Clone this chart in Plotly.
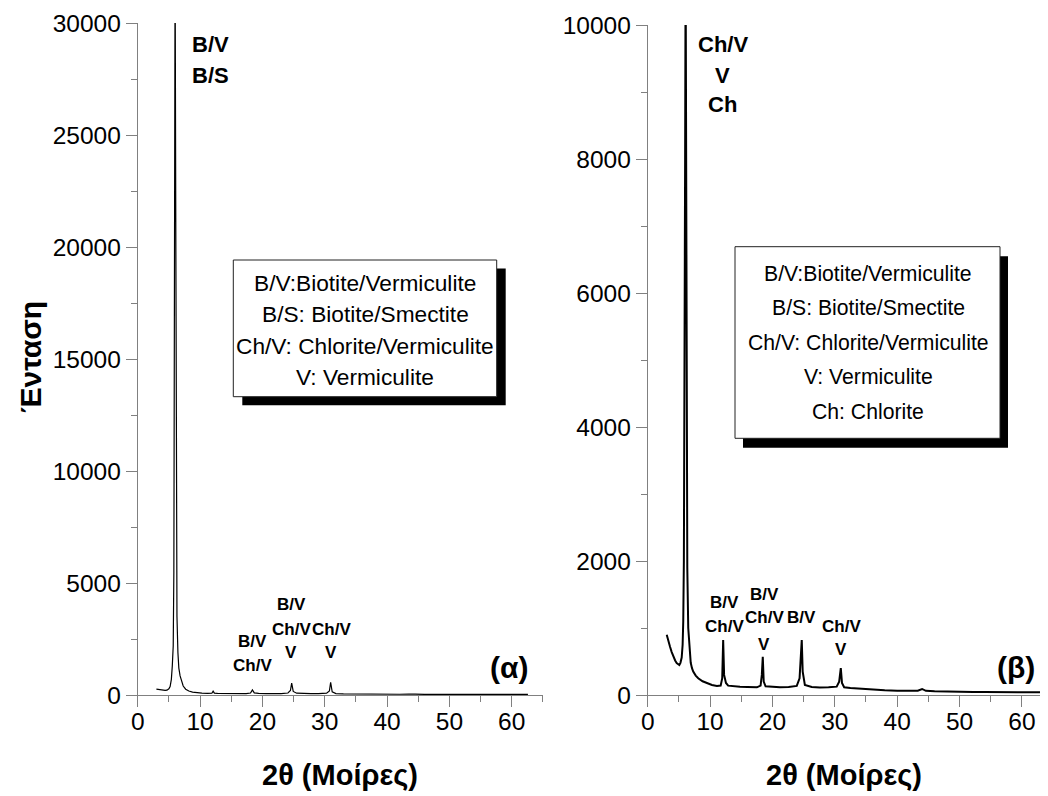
import plotly.graph_objects as go

# ---------------- data ----------------
alpha_2theta = [3.0, 3.3, 3.6, 4.0, 4.4, 4.7, 5.0, 5.2, 5.4, 5.55, 5.7, 5.8, 5.9, 6.0, 6.1,
                6.2, 6.3, 6.45, 6.6, 6.8, 7.0, 7.3, 7.7, 8.2, 8.8, 9.5, 10.3, 11.2, 11.9,
                12.1, 12.3, 12.8, 13.8, 15.0, 16.2, 17.4, 18.1, 18.4, 18.7, 19.4, 20.6,
                21.8, 23.0, 24.1, 24.5, 24.7, 24.95, 25.5, 26.5, 27.8, 29.0, 30.3, 30.75,
                30.95, 31.2, 31.8, 33.0, 34.5, 36.0, 37.5, 39.0, 40.5, 42.0, 43.5, 44.0,
                44.5, 46.0, 47.5, 49.0, 50.5, 52.0, 53.5, 55.0, 56.5, 58.0, 59.5, 61.0, 62.6]
alpha_intensity = [260, 245, 250, 225, 205, 215, 280, 380, 700, 1300, 2200, 5500, 16000, 33000, 22000,
                   9000, 3500, 1900, 1200, 850, 620, 400, 260, 180, 130, 100, 85, 75, 80,
                   170, 85, 70, 65, 62, 60, 62, 90, 230, 95, 70, 62,
                   60, 65, 90, 200, 530, 160, 80, 62, 58, 60, 80, 180,
                   570, 140, 65, 52, 45, 40, 38, 35, 36, 33, 40, 55,
                   36, 32, 30, 32, 29, 30, 28, 29, 27, 28, 27, 26, 26]

beta_2theta = [3.05, 3.3, 3.58, 3.85, 4.1, 4.4, 4.65, 4.9, 5.07, 5.25, 5.45, 5.6, 5.7, 5.8, 5.9,
               6.0, 6.08, 6.15, 6.25, 6.35, 6.5, 6.7, 6.9, 7.1, 7.3, 7.7, 8.1, 8.8, 9.5, 10.3,
               11.1, 11.7, 11.95, 12.1, 12.25, 12.55, 12.9, 13.8, 14.8, 16.0, 17.5, 18.1,
               18.3, 18.45, 18.6, 18.9, 20.0, 21.2, 22.6, 23.9, 24.35, 24.55, 24.7, 24.85,
               25.2, 26.3, 27.6, 29.0, 30.3, 30.7, 30.96, 31.15, 31.5, 32.5, 33.5, 35.0,
               36.2, 38.0, 40.0, 41.6, 43.3, 44.0, 44.6, 46.0, 46.9, 48.5, 50.5, 52.2,
               54.0, 55.8, 57.6, 59.5, 61.0, 62.9]
beta_intensity = [900, 800, 720, 640, 575, 515, 475, 452, 448, 480, 560, 750, 1100, 2000, 4000,
                  8000, 11000, 8500, 4000, 1900, 1000, 640, 480, 400, 350, 290, 250, 205, 175, 150,
                  135, 140, 250, 820, 300, 180, 140, 128, 122, 118, 115, 140,
                  300, 570, 200, 130, 118, 114, 118, 135, 250, 500, 820, 350,
                  150, 120, 112, 115, 125, 200, 400, 180, 115, 105, 98, 85,
                  78, 70, 65, 60, 65, 90, 62, 55, 52, 50, 47, 45,
                  44, 43, 42, 41, 40, 40]

x_tickvals = [0, 10, 20, 30, 40, 50, 60]
alpha_y_tickvals = [0, 5000, 10000, 15000, 20000, 25000, 30000]
beta_y_tickvals = [0, 2000, 4000, 6000, 8000, 10000]

alpha_legend = ["B/V:Biotite/Vermiculite", "B/S: Biotite/Smectite",
                "Ch/V: Chlorite/Vermiculite", "V: Vermiculite"]
beta_legend = ["B/V:Biotite/Vermiculite", "B/S: Biotite/Smectite",
               "Ch/V: Chlorite/Vermiculite", "V: Vermiculite", "Ch: Chlorite"]

x_title = "2θ (Μοίρες)"
y_title = "Ένταση"

# ---------------- figure ----------------
W, H = 1048, 796
FONT = "Liberation Sans, Arial, sans-serif"
AXC = "#808080"


def px(x):
    return x / W


def py(y):
    return 1 - y / H


fig = go.Figure()
fig.add_trace(go.Scatter(x=alpha_2theta, y=alpha_intensity, mode="lines",
                         line=dict(color="black", width=1.2), xaxis="x", yaxis="y",
                         showlegend=False, hoverinfo="skip"))
fig.add_trace(go.Scatter(x=beta_2theta, y=beta_intensity, mode="lines",
                         line=dict(color="black", width=2), xaxis="x2", yaxis="y2",
                         showlegend=False, hoverinfo="skip"))

common_axis = dict(showline=True, linecolor=AXC, linewidth=1, ticks="outside",
                   ticklen=11, tickcolor=AXC, tickwidth=1, showgrid=False,
                   zeroline=False, tickfont=dict(size=24.5, color="black", family=FONT),
                   mirror=False, automargin=False, tickformat="d")
x_extra = dict(ticklabelstandoff=-6)

fig.update_layout(
    width=W, height=H, margin=dict(l=0, r=0, t=0, b=0, autoexpand=False),
    paper_bgcolor="white", plot_bgcolor="white", showlegend=False,
    font=dict(family=FONT, color="black"),
    xaxis=dict(domain=[px(137.7), px(542.9)], range=[0, 65], anchor="y",
               tickvals=x_tickvals,
               minor=dict(dtick=5, tick0=0, ticks="outside", ticklen=6, tickcolor=AXC),
               **common_axis, **x_extra),
    yaxis=dict(domain=[py(695), py(23)], range=[0, 30000], anchor="x",
               tickvals=alpha_y_tickvals,
               minor=dict(dtick=2500, tick0=0, ticks="outside", ticklen=6, tickcolor=AXC),
               **common_axis),
    xaxis2=dict(domain=[px(647.7), px(1040)], range=[0, 62.9], anchor="y2",
                tickvals=x_tickvals,
                minor=dict(dtick=5, tick0=0, ticks="outside", ticklen=6, tickcolor=AXC),
                **common_axis, **x_extra),
    yaxis2=dict(domain=[py(695), py(25)], range=[0, 10000], anchor="x2",
                tickvals=beta_y_tickvals,
                minor=dict(dtick=1000, tick0=0, ticks="outside", ticklen=6, tickcolor=AXC),
                **common_axis),
)

# legend boxes with drop shadow
shapes = []
for (x0, y0, x1, y1), (dx, dy) in [((233.3, 260, 496.7, 396.7), (9, 8.5)),
                                    ((735, 246.7, 1000, 438.3), (8, 9.5))]:
    shapes.append(dict(type="rect", xref="paper", yref="paper",
                       x0=px(x0 + dx), x1=px(x1 + dx), y0=py(y1 + dy), y1=py(y0 + dy),
                       fillcolor="black", line=dict(color="black", width=0), layer="above"))
    shapes.append(dict(type="rect", xref="paper", yref="paper",
                       x0=px(x0), x1=px(x1), y0=py(y1), y1=py(y0),
                       fillcolor="white", line=dict(color="#222222", width=1), layer="above"))
fig.update_layout(shapes=shapes)

ann = []


def txt(x, y, s, size, bold=False, xanchor="center", angle=0):
    ann.append(dict(x=px(x), y=py(y), xref="paper", yref="paper",
                    text=("<b>%s</b>" % s) if bold else s, showarrow=False,
                    font=dict(size=size, color="black", family=FONT),
                    xanchor=xanchor, yanchor="middle", textangle=angle))


# legend texts
for i, s in enumerate(alpha_legend):
    txt(365, 283.3 + i * 31.1, s, 22.7)
for i, s in enumerate(beta_legend):
    txt(868, 273 + i * 34.6, s, 21.2)

# peak labels – panel (α)
txt(190, 45, "B/V", 22, True, "left")
txt(190, 75, "B/S", 22, True, "left")
for (cx, lines, ys) in [(252.5, ["B/V", "Ch/V"], [641, 665]),
                        (291, ["B/V", "Ch/V", "V"], [604, 629, 652.5]),
                        (331, ["Ch/V", "V"], [629, 652.5])]:
    for s, yy in zip(lines, ys):
        txt(cx, yy, s, 17, True)

# peak labels – panel (β)
for s, yy in zip(["Ch/V", "V", "Ch"], [44, 75, 104.5]):
    txt(722.5, yy, s, 22, True)
for (cx, lines, ys) in [(724.3, ["B/V", "Ch/V"], [602.5, 626]),
                        (764, ["B/V", "Ch/V", "V"], [594, 617.5, 644]),
                        (801.3, ["B/V"], [617.5]),
                        (841, ["Ch/V", "V"], [626, 649])]:
    for s, yy in zip(lines, ys):
        txt(cx, yy, s, 17, True)

# panel tags
txt(509, 667, "(α)", 30, True)
txt(1016, 667, "(β)", 30, True)

# axis titles
txt(340.3, 775, x_title, 29, True)
txt(844, 775, x_title, 29, True)
txt(30, 357, y_title, 30, True, angle=-90)

fig.update_layout(annotations=ann)
fig.write_html("out.html")
